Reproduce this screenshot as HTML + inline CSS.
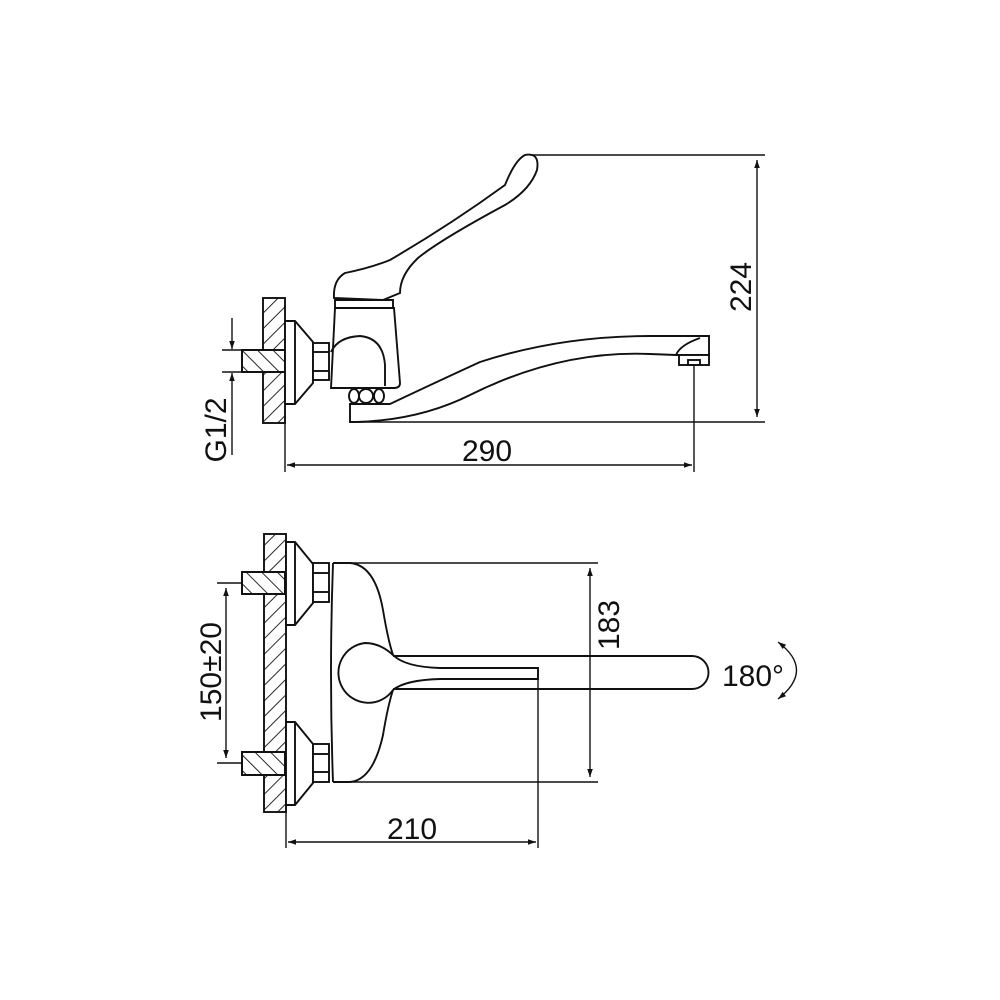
<!DOCTYPE html>
<html><head><meta charset="utf-8"><style>html,body{margin:0;padding:0;background:#fff}svg{display:block}text{font-family:"Liberation Sans",sans-serif;fill:#111}</style></head>
<body>
<svg width="1000" height="1000" viewBox="0 0 1000 1000" xmlns="http://www.w3.org/2000/svg">
<defs>
<pattern id="h1" patternUnits="userSpaceOnUse" width="11" height="11" patternTransform="rotate(45)"><line x1="0" y1="0" x2="0" y2="11" stroke="#111" stroke-width="1.8"/></pattern>
<pattern id="h2" patternUnits="userSpaceOnUse" width="11" height="11" patternTransform="rotate(-45)"><line x1="0" y1="0" x2="0" y2="11" stroke="#111" stroke-width="1.8"/></pattern>
<marker id="a" viewBox="0 0 10 10" refX="10" refY="5" markerWidth="14" markerHeight="8" orient="auto-start-reverse" markerUnits="userSpaceOnUse"><path d="M0,1.5 L10,5 L0,8.5z" fill="#111"/></marker>
</defs>
<g fill="none" stroke="#111" stroke-width="1.9">
<!-- TOP VIEW -->
<rect x="263" y="298" width="22" height="125" fill="url(#h1)"/>
<rect x="242" y="350" width="43" height="22" fill="#fff"/>
<rect x="242" y="350" width="43" height="22" fill="url(#h2)"/>
<path d="M285,321 H295 L313,342 V383 L295,404 H285 Z" fill="#fff"/>
<line x1="295" y1="321" x2="295" y2="404"/>
<rect x="313" y="343" width="16" height="37" fill="#fff"/>
<line x1="313" y1="352" x2="329" y2="352"/><line x1="313" y1="371" x2="329" y2="371"/>
<path d="M335,308 H394 L400,383 Q400,388 394,388 H331 Z" fill="#fff"/>
<path d="M331,352 Q338,337 360,336 Q383,338 385,365 V386"/>
<path d="M335,300 H393 V308 H335 Z"/>
<path d="M334,298 Q333,280 345,273 Q370,268 390,260 Q450,225 505,185 Q515,160 525,155 Q540,152 537,170 Q530,190 505,205 Q440,240 418,258 Q400,275 400,293 L383,300 Z" fill="#fff"/>
<ellipse cx="354" cy="396" rx="5" ry="7"/><ellipse cx="366" cy="396" rx="7" ry="7"/><ellipse cx="379" cy="396" rx="5" ry="7"/>
<path d="M348,388 H386"/>
<path d="M350,403 V422 H357"/>
<path d="M357,422 Q420,420 470,395 Q560,350 650,354 L676,355 L709,355 V336 H650 Q560,336 480,362 Q430,385 390,404 H350"/>
<path d="M676,355 Q680,345 700,338"/>
<rect x="679" y="355" width="30" height="10" fill="#fff"/>
<rect x="688" y="360" width="12" height="5"/>
<g stroke-width="1.4">
<line x1="530" y1="155" x2="765" y2="155"/><line x1="357" y1="422" x2="765" y2="422"/>
<line x1="757" y1="160" x2="757" y2="417" marker-start="url(#a)" marker-end="url(#a)"/>
<line x1="694" y1="365" x2="694" y2="472"/><line x1="285" y1="423" x2="285" y2="472"/>
<line x1="287" y1="465" x2="692" y2="465" marker-start="url(#a)" marker-end="url(#a)"/>
<line x1="222" y1="350" x2="242" y2="350"/><line x1="222" y1="372" x2="242" y2="372"/>
<line x1="232" y1="318" x2="232" y2="349" marker-end="url(#a)"/>
<line x1="232" y1="455" x2="232" y2="373" marker-end="url(#a)"/>
</g>
<!-- BOTTOM VIEW -->
<rect x="264" y="534" width="22" height="278" fill="url(#h1)"/>
<rect x="242" y="572" width="43" height="22" fill="#fff"/><rect x="242" y="572" width="43" height="22" fill="url(#h2)"/>
<rect x="242" y="752" width="43" height="23" fill="#fff"/><rect x="242" y="752" width="43" height="23" fill="url(#h2)"/>
<path d="M286,542 H295 L313,564 V603 L295,625 H286 Z" fill="#fff"/>
<line x1="295" y1="542" x2="295" y2="625"/>
<rect x="313" y="563" width="16" height="39" fill="#fff"/>
<line x1="313" y1="573" x2="329" y2="573"/><line x1="313" y1="592" x2="329" y2="592"/>
<path d="M286,722 H295 L313,744 V783 L295,805 H286 Z" fill="#fff"/>
<line x1="295" y1="722" x2="295" y2="805"/>
<rect x="313" y="744" width="16" height="38" fill="#fff"/>
<line x1="313" y1="754" x2="329" y2="754"/><line x1="313" y1="772" x2="329" y2="772"/>
<path d="M333,563 Q329,673 333,782"/>
<path d="M333,563 H350 Q375,565 383,610 Q388,640 393,655"/>
<path d="M393,690 Q388,705 383,735 Q373,780 350,782 H333"/>
<path d="M393,655 Q380,643 365,643 A30,30 0 1 0 393,690 Q405,680 440,679 L538,679 V668 L440,668 Q405,667 393,655 Z" fill="#fff"/>
<path d="M393,656 H692 A16.5,16.5 0 0 1 692,689 H393"/>
<g stroke-width="1.4">
<line x1="350" y1="563" x2="598" y2="563"/><line x1="350" y1="782" x2="598" y2="782"/>
<line x1="590" y1="568" x2="590" y2="777" marker-start="url(#a)" marker-end="url(#a)"/>
<line x1="217" y1="583" x2="242" y2="583"/><line x1="217" y1="763" x2="242" y2="763"/>
<line x1="226" y1="588" x2="226" y2="758" marker-start="url(#a)" marker-end="url(#a)"/>
<line x1="538" y1="679" x2="538" y2="848"/><line x1="286" y1="812" x2="286" y2="848"/>
<line x1="288" y1="842" x2="536" y2="842" marker-start="url(#a)" marker-end="url(#a)"/>
<path d="M778,642 Q815,670 778,699" marker-start="url(#a)" marker-end="url(#a)"/>
</g>
</g>
<text x="487" y="461" font-size="30" text-anchor="middle">290</text>
<text x="412" y="839" font-size="30" text-anchor="middle">210</text>
<text font-size="30" text-anchor="middle" transform="translate(751,287) rotate(-90)">224</text>
<text font-size="30" text-anchor="middle" transform="translate(619,625) rotate(-90)">183</text>
<text font-size="30" text-anchor="middle" transform="translate(221,672) rotate(-90)">150±20</text>
<text font-size="30" text-anchor="middle" transform="translate(226,430) rotate(-90)">G1/2</text>
<text x="722" y="686" font-size="30">180°</text>
</svg>
</body></html>
